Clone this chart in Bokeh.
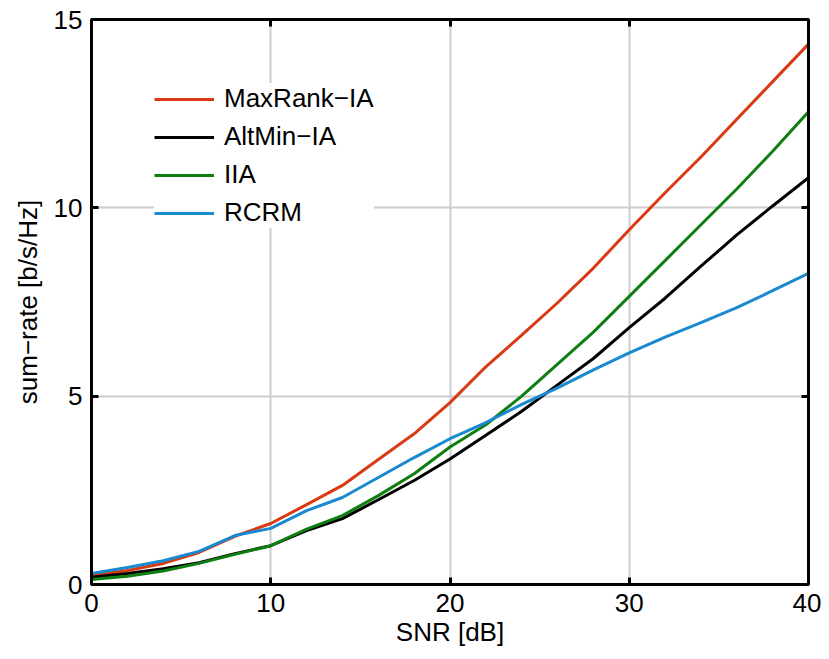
from bokeh.plotting import figure
from bokeh.models import Legend, LegendItem, LinearAxis, Range1d, FixedTicker
from bokeh.embed import file_html
from bokeh.resources import INLINE

snr = [0, 2, 4, 6, 8, 10, 12, 14, 16, 18, 20, 22, 24, 26, 28, 30, 32, 34, 36, 38, 40]
maxrank = [0.24, 0.37, 0.56, 0.85, 1.28, 1.62, 2.12, 2.63, 3.32, 4.0, 4.83, 5.78, 6.62, 7.48, 8.4, 9.42, 10.4, 11.35, 12.35, 13.35, 14.35]
altmin = [0.19, 0.29, 0.42, 0.58, 0.82, 1.03, 1.43, 1.75, 2.25, 2.76, 3.33, 3.96, 4.6, 5.3, 6.0, 6.82, 7.6, 8.45, 9.28, 10.05, 10.8]
iia = [0.13, 0.22, 0.36, 0.56, 0.8, 1.03, 1.47, 1.83, 2.36, 2.94, 3.65, 4.24, 5.0, 5.85, 6.7, 7.65, 8.6, 9.55, 10.5, 11.5, 12.55]
rcrm = [0.29, 0.45, 0.63, 0.88, 1.3, 1.49, 1.96, 2.31, 2.84, 3.37, 3.87, 4.3, 4.78, 5.22, 5.7, 6.15, 6.57, 6.95, 7.35, 7.8, 8.26]

names = ["MaxRank\u2212IA", "AltMin\u2212IA", "IIA", "RCRM"]
colors = ["#D93A14", "#000000", "#0F7F12", "#1A8AD0"]
series = [maxrank, altmin, iia, rcrm]

x_ticks = [0, 10, 20, 30, 40]
y_ticks = [0, 5, 10, 15]

FONT = "Liberation Sans"

p = figure(width=821, height=653, output_backend="svg", toolbar_location=None,
           x_range=Range1d(0, 40), y_range=Range1d(0, 15),
           min_border_left=91, min_border_top=19, min_border_right=13, min_border_bottom=69)

p.background_fill_color = "white"
p.outline_line_color = "black"
p.outline_line_width = 3

for ax in [p.xaxis[0], p.yaxis[0]]:
    ax.major_tick_in = 7
    ax.major_tick_out = 0
    ax.minor_tick_in = 0
    ax.minor_tick_out = 0
    ax.axis_line_width = 3
    ax.major_tick_line_width = 3
    ax.major_label_text_font = FONT
    ax.major_label_text_font_size = "26px"
    ax.major_label_text_color = "black"
    ax.axis_label_text_font = FONT
    ax.axis_label_text_font_size = "26px"
    ax.axis_label_text_font_style = "normal"
    ax.axis_label_text_color = "black"

p.xaxis.ticker = FixedTicker(ticks=x_ticks)
p.yaxis.ticker = FixedTicker(ticks=y_ticks)
p.xaxis.axis_label = "SNR [dB]"
p.yaxis.axis_label = "sum\u2212rate [b/s/Hz]"
p.xaxis.major_label_standoff = 9
p.yaxis.major_label_standoff = 9
p.xaxis.axis_label_standoff = 2
p.yaxis.axis_label_standoff = 8

for loc, tks in [("above", x_ticks), ("right", y_ticks)]:
    ax = LinearAxis(ticker=FixedTicker(ticks=tks),
                    major_label_overrides={t: "" for t in tks})
    ax.major_tick_in = 7
    ax.major_tick_out = 0
    ax.minor_tick_in = 0
    ax.minor_tick_out = 0
    ax.axis_line_width = 3
    ax.major_tick_line_width = 3
    ax.major_label_standoff = 0
    p.add_layout(ax, loc)

p.grid.grid_line_color = "#CCCCCC"
p.grid.grid_line_width = 2
p.xgrid.ticker = FixedTicker(ticks=x_ticks)
p.ygrid.ticker = FixedTicker(ticks=y_ticks)

items = []
for name, col, ys in zip(names, colors, series):
    r = p.line(snr, ys, line_color=col, line_width=3)
    items.append(LegendItem(label=name, renderers=[r]))

legend = Legend(items=items, location=(63, 356))
legend.border_line_color = None
legend.background_fill_color = "white"
legend.background_fill_alpha = 1
legend.label_text_font = FONT
legend.label_text_font_size = "26px"
legend.label_text_color = "black"
legend.glyph_width = 60
legend.label_height = 29
legend.spacing = 7
legend.padding = 10
legend.label_standoff = 10
p.add_layout(legend, "center")

open("out.html", "w").write(file_html(p, INLINE))
